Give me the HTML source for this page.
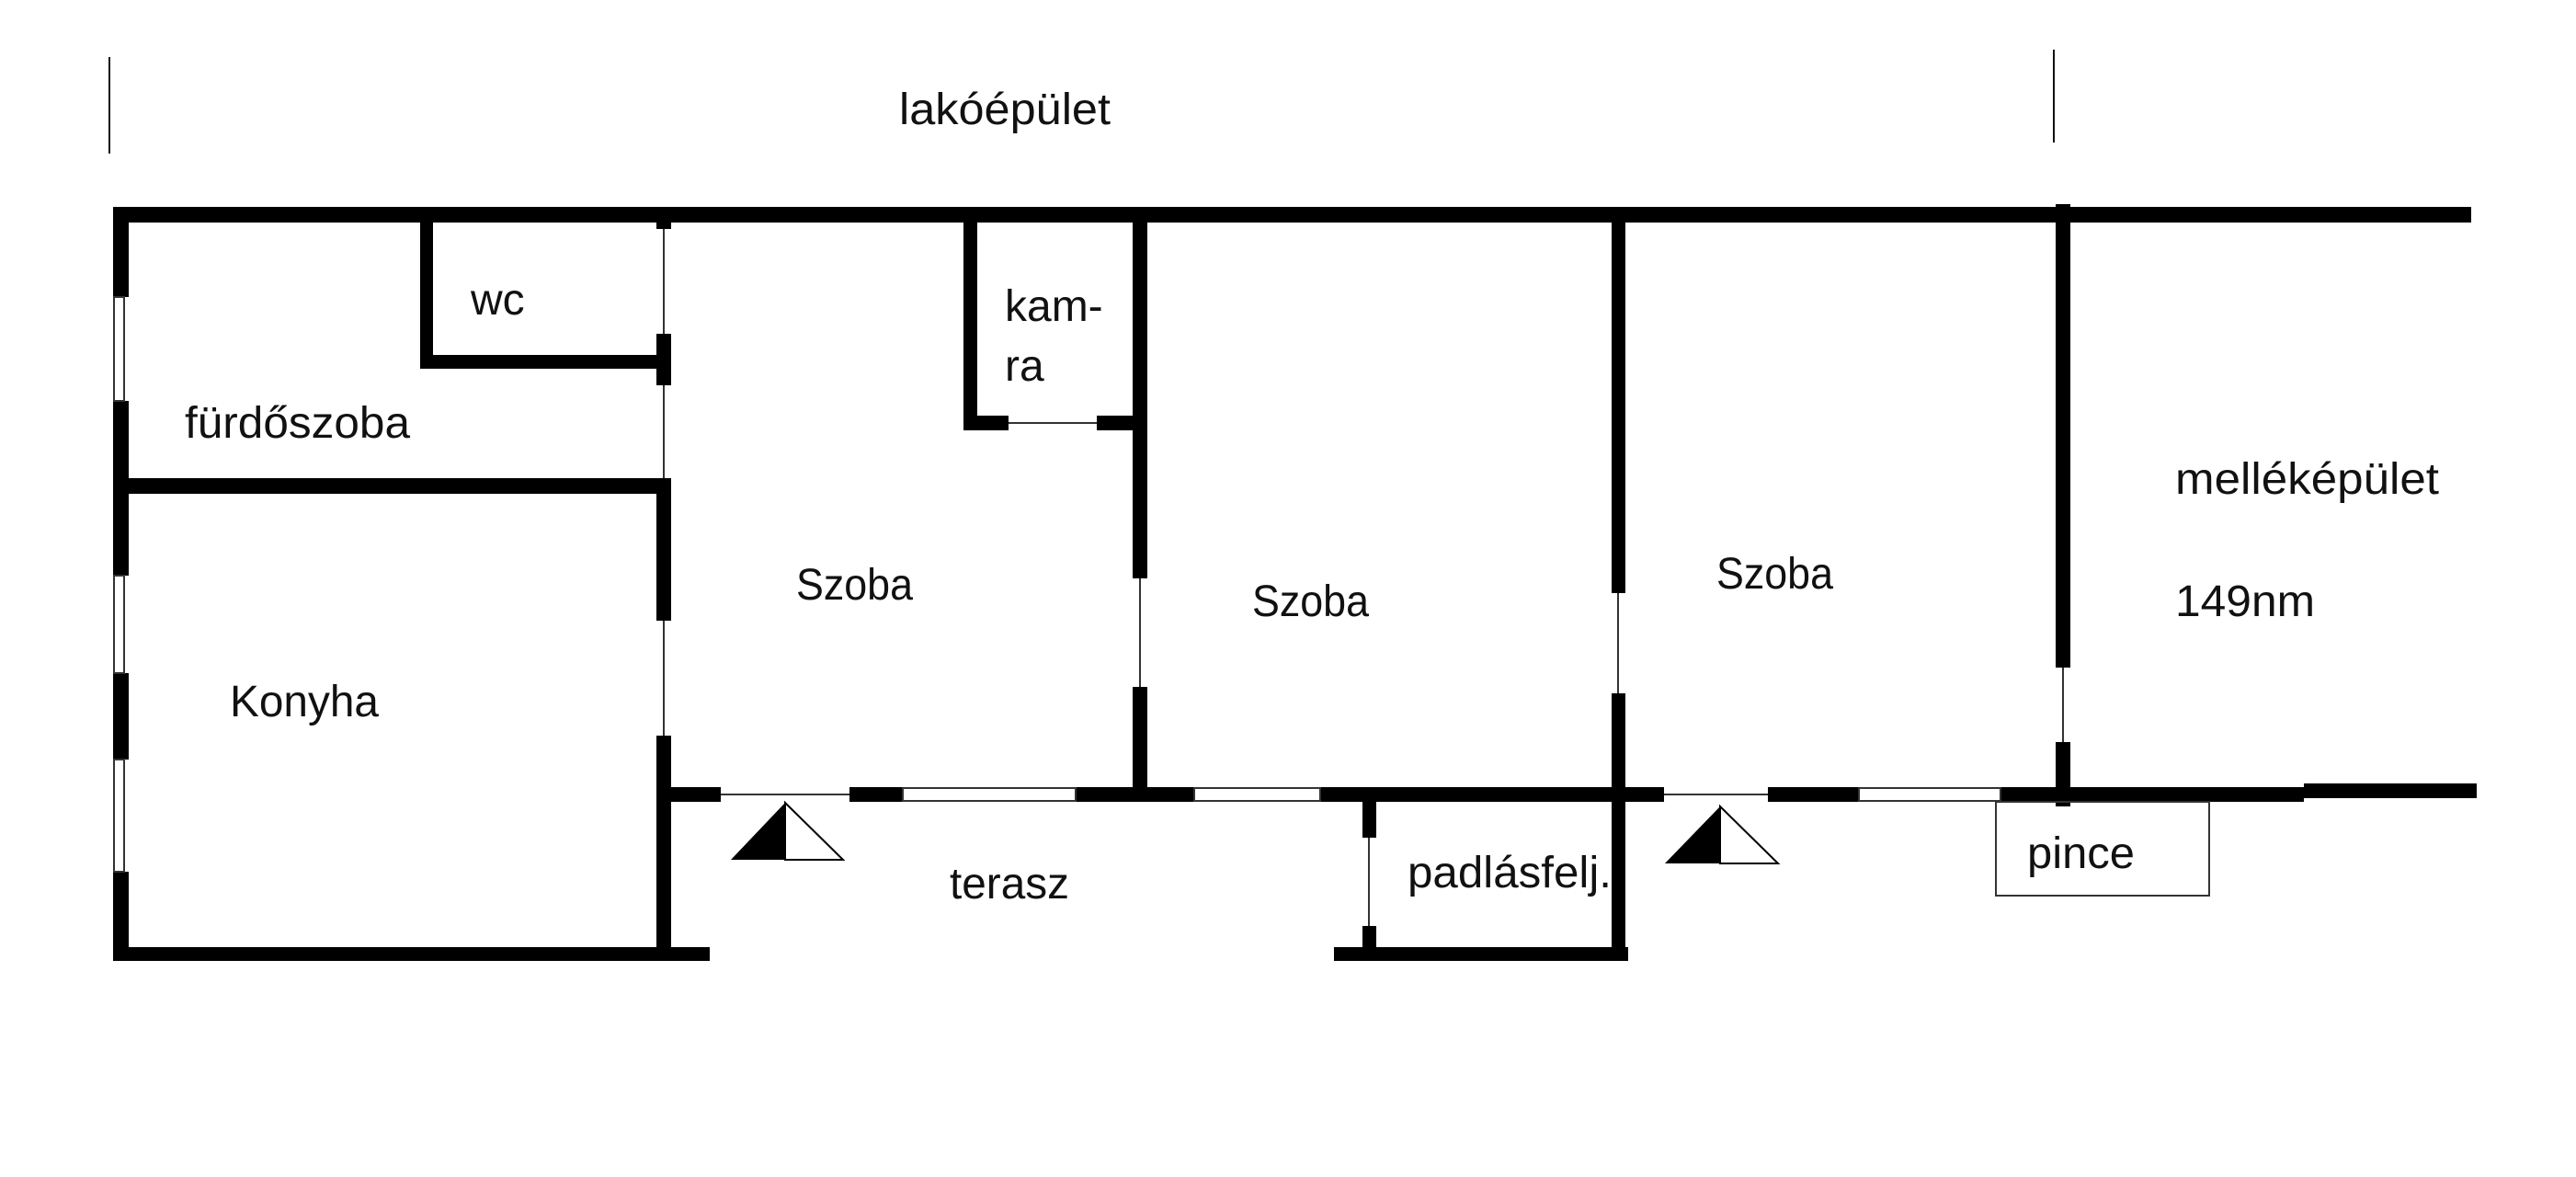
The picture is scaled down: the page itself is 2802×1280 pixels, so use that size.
<!DOCTYPE html>
<html><head><meta charset="utf-8"><style>
html,body{margin:0;padding:0;background:#fff;}
svg{display:block;}
text{font-family:"Liberation Sans",sans-serif;font-size:48px;fill:#111;}
</style></head><body>
<svg width="2802" height="1280" viewBox="0 0 2802 1280" xmlns="http://www.w3.org/2000/svg">
<rect width="2802" height="1280" fill="#fff"/>
<!-- ticks -->
<rect x="118" y="62" width="2" height="105" fill="#111"/>
<rect x="2233" y="54" width="2" height="101" fill="#111"/>
<text x="978" y="135" textLength="230" lengthAdjust="spacingAndGlyphs">lakóépület</text>

<g fill="#000">
<!-- top wall -->
<rect x="123" y="225" width="2565" height="17"/>
<!-- left wall -->
<rect x="123" y="225" width="17" height="98"/>
<rect x="123" y="436" width="17" height="190"/>
<rect x="123" y="732" width="17" height="94"/>
<rect x="123" y="948" width="17" height="97"/>
<!-- bottom left wall -->
<rect x="123" y="1030" width="649" height="15"/>
<!-- wc -->
<rect x="457" y="225" width="14" height="176"/>
<rect x="457" y="386" width="273" height="15"/>
<rect x="714" y="225" width="16" height="24"/>
<rect x="714" y="363" width="16" height="56"/>
<!-- fürdő/konyha -->
<rect x="123" y="520" width="607" height="17"/>
<rect x="714" y="520" width="16" height="155"/>
<rect x="714" y="800" width="16" height="245"/>
<!-- bottom row wall -->
<rect x="714" y="856" width="70" height="16"/>
<rect x="924" y="856" width="58" height="16"/>
<rect x="1170" y="856" width="129" height="16"/>
<rect x="1436" y="856" width="374" height="16"/>
<rect x="1923" y="856" width="99" height="16"/>
<rect x="2176" y="856" width="330" height="16"/>
<rect x="2506" y="852" width="188" height="16"/>
<!-- kamra -->
<rect x="1048" y="225" width="15" height="243"/>
<rect x="1048" y="452" width="49" height="16"/>
<rect x="1193" y="452" width="39" height="16"/>
<rect x="1232" y="225" width="16" height="404"/>
<rect x="1232" y="747" width="16" height="125"/>
<!-- wall 3 -->
<rect x="1753" y="225" width="15" height="420"/>
<rect x="1753" y="754" width="15" height="291"/>
<!-- melléképület wall -->
<rect x="2236" y="222" width="16" height="504"/>
<rect x="2236" y="807" width="16" height="70"/>
<!-- padlás -->
<rect x="1482" y="872" width="15" height="39"/>
<rect x="1482" y="1007" width="15" height="23"/>
<rect x="1451" y="1030" width="320" height="15"/>
</g>
<g fill="none" stroke="#333" stroke-width="2">
<!-- left windows -->
<rect x="124" y="323" width="11" height="113"/>
<rect x="124" y="626" width="11" height="106"/>
<rect x="124" y="826" width="11" height="122"/>
<!-- thin door lines -->
<line x1="722" y1="249" x2="722" y2="363"/>
<line x1="722" y1="419" x2="722" y2="520"/>
<line x1="722" y1="675" x2="722" y2="800"/>
<line x1="1097" y1="460" x2="1193" y2="460"/>
<line x1="1240" y1="629" x2="1240" y2="747"/>
<line x1="1760" y1="645" x2="1760" y2="754"/>
<line x1="2244" y1="726" x2="2244" y2="807"/>
<line x1="784" y1="864" x2="924" y2="864"/>
<line x1="1810" y1="864" x2="1923" y2="864"/>
<line x1="1489" y1="911" x2="1489" y2="1007"/>
<!-- bottom windows -->
<rect x="982" y="857" width="188" height="14"/>
<rect x="1299" y="857" width="137" height="14"/>
<rect x="2022" y="857" width="154" height="14"/>
<!-- pince -->
<rect x="2171" y="872" width="232" height="102"/>
</g>
<!-- doors -->
<polygon points="795,935 854,873 854,935" fill="#000"/>
<polygon points="854,873 917,935 854,935" fill="#fff" stroke="#000" stroke-width="2"/>
<polygon points="1811,939 1871,877 1871,939" fill="#000"/>
<polygon points="1871,877 1934,939 1871,939" fill="#fff" stroke="#000" stroke-width="2"/>

<text x="512" y="342">wc</text>
<text x="1093" y="349">kam-</text>
<text x="1093" y="414">ra</text>
<text x="201" y="476" textLength="245" lengthAdjust="spacingAndGlyphs">fürdőszoba</text>
<text x="866" y="652" textLength="127" lengthAdjust="spacingAndGlyphs">Szoba</text>
<text x="1362" y="670" textLength="127" lengthAdjust="spacingAndGlyphs">Szoba</text>
<text x="1867" y="640" textLength="127" lengthAdjust="spacingAndGlyphs">Szoba</text>
<text x="250" y="779" textLength="162" lengthAdjust="spacingAndGlyphs">Konyha</text>
<text x="1033" y="977" textLength="130" lengthAdjust="spacingAndGlyphs">terasz</text>
<text x="1531" y="965" textLength="222" lengthAdjust="spacingAndGlyphs">padlásfelj.</text>
<text x="2366" y="537" textLength="287" lengthAdjust="spacingAndGlyphs">melléképület</text>
<text x="2366" y="670" textLength="152" lengthAdjust="spacingAndGlyphs">149nm</text>
<text x="2205" y="944" textLength="117" lengthAdjust="spacingAndGlyphs">pince</text>
</svg>
</body></html>
